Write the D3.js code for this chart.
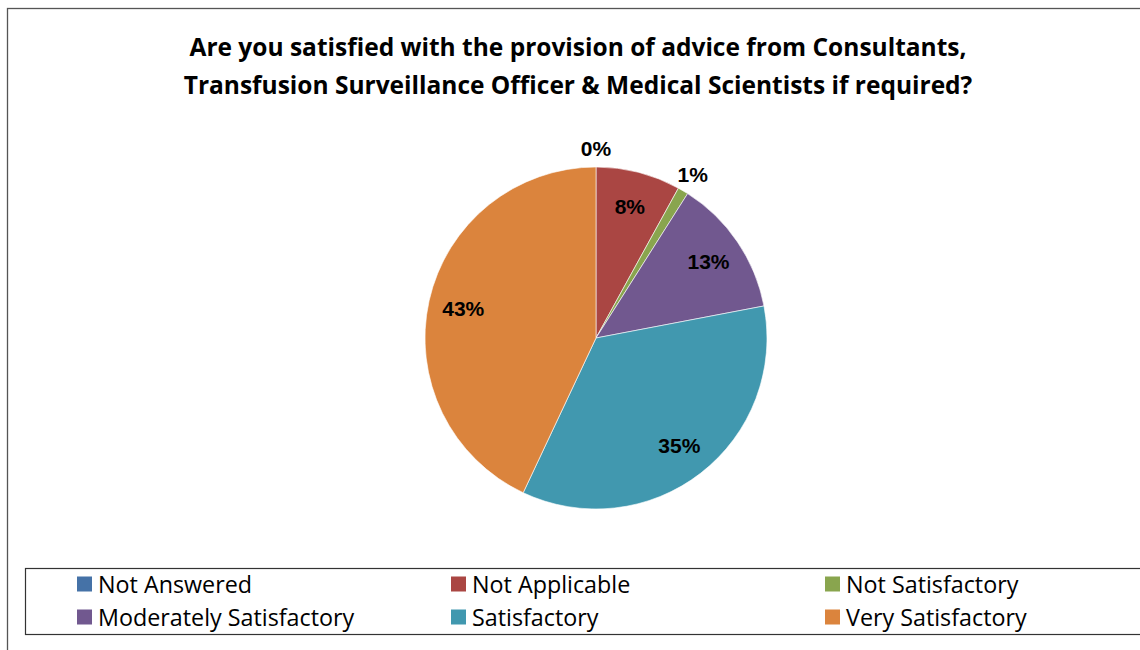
<!DOCTYPE html>
<html>
<head>
<meta charset="utf-8">
<script src="https://cdn.jsdelivr.net/npm/d3@7"></script>
<style>
  html, body { margin: 0; padding: 0; background: #fff; }
  svg { display: block; }
</style>
</head>
<body>
<svg id="chart" width="1140" height="650"></svg>
<script>
// Survey responses, in drawing order (clockwise from 12 o'clock)
const categories = ["Not Answered", "Not Applicable", "Not Satisfactory",
                    "Moderately Satisfactory", "Satisfactory", "Very Satisfactory"];
const percents = [0, 8, 1, 13, 35, 43];
const colors = ["#4572A7", "#AA4643", "#89A54E", "#71588F", "#4198AF", "#DB843D"];
const titleLines = [
  "Are you satisfied with the provision of advice from Consultants,",
  "Transfusion Surveillance Officer & Medical Scientists if required?"
];

const svg = d3.select("#chart");

// Outer chart frame
svg.append("rect")
  .attr("x", 7.5).attr("y", 8.5)
  .attr("width", 1140).attr("height", 660)
  .attr("fill", "#fff").attr("stroke", "#555").attr("stroke-width", 1.3);

// Title
svg.append("g").selectAll("text")
  .data(titleLines)
  .join("text")
  .attr("x", 578)
  .attr("y", (d, i) => 56 + i * 38)
  .attr("text-anchor", "middle")
  .attr("font-family", "'Open Sans', 'Liberation Sans', sans-serif")
  .attr("font-weight", "bold")
  .attr("font-size", 24.5)
  .attr("fill", "#000")
  .text(d => d);

// Pie
const cx = 596, cy = 338, radius = 171;
const color = d3.scaleOrdinal().domain(categories).range(colors);
const data = categories.map((c, i) => ({ name: c, value: percents[i] }));

const pie = d3.pie().value(d => d.value).sort(null);
const arcs = pie(data);
const arc = d3.arc().innerRadius(0).outerRadius(radius);
const insideArc = d3.arc().innerRadius(136).outerRadius(136);
const outsideArc = d3.arc().innerRadius(190).outerRadius(190);

const g = svg.append("g").attr("transform", `translate(${cx},${cy})`);

g.selectAll("path")
  .data(arcs)
  .join("path")
  .attr("d", arc)
  .attr("fill", d => color(d.data.name))
  .attr("stroke", "#fff")
  .attr("stroke-width", 0.6);

// Percentage labels: small slices get their label outside the pie
g.selectAll("text")
  .data(arcs)
  .join("text")
  .attr("transform", d => {
    const a = d.data.value < 5 ? outsideArc : insideArc;
    const [x, y] = a.centroid(d);
    return `translate(${x},${y})`;
  })
  .attr("text-anchor", "middle")
  .attr("dominant-baseline", "central")
  .attr("font-family", "'Liberation Sans', Arial, sans-serif")
  .attr("font-weight", "bold")
  .attr("font-size", 21)
  .attr("fill", "#000")
  .text(d => d.data.value + "%");

// Legend
const legend = svg.append("g");
legend.append("rect")
  .attr("x", 25.5).attr("y", 568.5)
  .attr("width", 1140).attr("height", 66)
  .attr("fill", "#fff").attr("stroke", "#333").attr("stroke-width", 1.2);

const colX = [77, 451, 825];
const rowY = [584, 617];
const items = legend.selectAll("g.item")
  .data(categories)
  .join("g")
  .attr("class", "item")
  .attr("transform", (d, i) => `translate(${colX[i % 3]},${rowY[Math.floor(i / 3)]})`);

items.append("rect")
  .attr("x", 0).attr("y", -7.5)
  .attr("width", 15).attr("height", 15)
  .attr("fill", d => color(d));

items.append("text")
  .attr("x", 21).attr("y", 0)
  .attr("dominant-baseline", "central")
  .attr("font-family", "'Open Sans', 'Liberation Sans', sans-serif")
  .attr("font-size", 23.3)
  .attr("fill", "#000")
  .text(d => d);
</script>
</body>
</html>
